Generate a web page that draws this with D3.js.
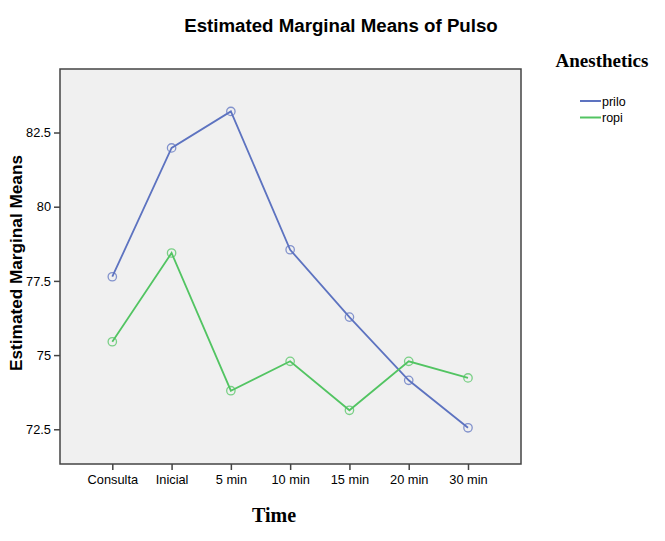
<!DOCTYPE html>
<html><head><meta charset="utf-8">
<script src="https://cdn.jsdelivr.net/npm/d3@7"></script>
<style>body{margin:0;background:#fff}svg{display:block}</style>
</head><body>
<script>
const categories = ["Consulta","Inicial","5 min","10 min","15 min","20 min","30 min"];
const seriesNames = ["prilo","ropi"];
const priloValues = [77.64, 81.98, 83.21, 78.55, 76.28, 74.15, 72.55];
const ropiValues = [75.45, 78.44, 73.80, 74.79, 73.14, 74.79, 74.23];
const yTicks = [72.5, 75, 77.5, 80, 82.5];
const colors = ["#5d73c0", "#52c462"];

const W = 665, H = 541;
const svg = d3.select("body").append("svg").attr("width", W).attr("height", H);
const L = 60, R = 521, T = 69, B = 464;

const x = d3.scalePoint().domain(categories).range([112.3, 468]);
const y = d3.scaleLinear().domain([71.33, 84.64]).range([B, T]);

svg.append("rect").attr("x", L).attr("y", T).attr("width", R - L).attr("height", B - T)
  .attr("fill", "#f0f0f0").attr("stroke", "#444").attr("stroke-width", 1.5);

const yAxis = svg.append("g").attr("transform", `translate(${L},0)`)
  .call(d3.axisLeft(y).tickValues(yTicks).tickSize(6).tickPadding(3).tickFormat(d => d));
const xAxis = svg.append("g").attr("transform", `translate(0,${B})`)
  .call(d3.axisBottom(x).tickSize(6).tickPadding(5));
[yAxis, xAxis].forEach(g => {
  g.select(".domain").remove();
  g.selectAll("line").attr("stroke", "#444").attr("stroke-width", 1.5);
  g.selectAll("text").attr("font-family", "Liberation Sans, Arial, sans-serif").attr("font-size", 12.8).attr("fill", "#000");
});

const data = [priloValues, ropiValues];
const line = d3.line().x((d, i) => x(categories[i])).y(d => y(d));
data.forEach((vals, s) => {
  svg.append("path").datum(vals).attr("d", line).attr("fill", "none")
    .attr("stroke", colors[s]).attr("stroke-width", 1.8);
  svg.selectAll(null).data(vals).enter().append("circle")
    .attr("cx", (d, i) => x(categories[i])).attr("cy", d => y(d)).attr("r", 4.2)
    .attr("fill", "none").attr("stroke", colors[s]).attr("stroke-width", 1.3).attr("stroke-opacity", 0.75);
});

svg.append("text").attr("x", 341).attr("y", 32).attr("text-anchor", "middle")
  .attr("font-family", "Liberation Sans, Arial, sans-serif").attr("font-weight", "bold").attr("font-size", 18.7)
  .text("Estimated Marginal Means of Pulso");
svg.append("text").attr("transform", "translate(22,263) rotate(-90)").attr("text-anchor", "middle")
  .attr("font-family", "Liberation Sans, Arial, sans-serif").attr("font-weight", "bold").attr("font-size", 17.2)
  .text("Estimated Marginal Means");
svg.append("text").attr("x", 274).attr("y", 522).attr("text-anchor", "middle")
  .attr("font-family", "Liberation Serif, Times New Roman, serif").attr("font-weight", "bold").attr("font-size", 20)
  .text("Time");
svg.append("text").attr("x", 602).attr("y", 67).attr("text-anchor", "middle")
  .attr("font-family", "Liberation Serif, Times New Roman, serif").attr("font-weight", "bold").attr("font-size", 19)
  .text("Anesthetics");

seriesNames.forEach((n, i) => {
  const yy = 101 + i * 16.5;
  svg.append("line").attr("x1", 580).attr("x2", 601).attr("y1", yy).attr("y2", yy)
    .attr("stroke", colors[i]).attr("stroke-width", 2);
  svg.append("text").attr("x", 602).attr("y", yy + 4.5)
    .attr("font-family", "Liberation Sans, Arial, sans-serif").attr("font-size", 12.5).text(n);
});
</script>
</body></html>
